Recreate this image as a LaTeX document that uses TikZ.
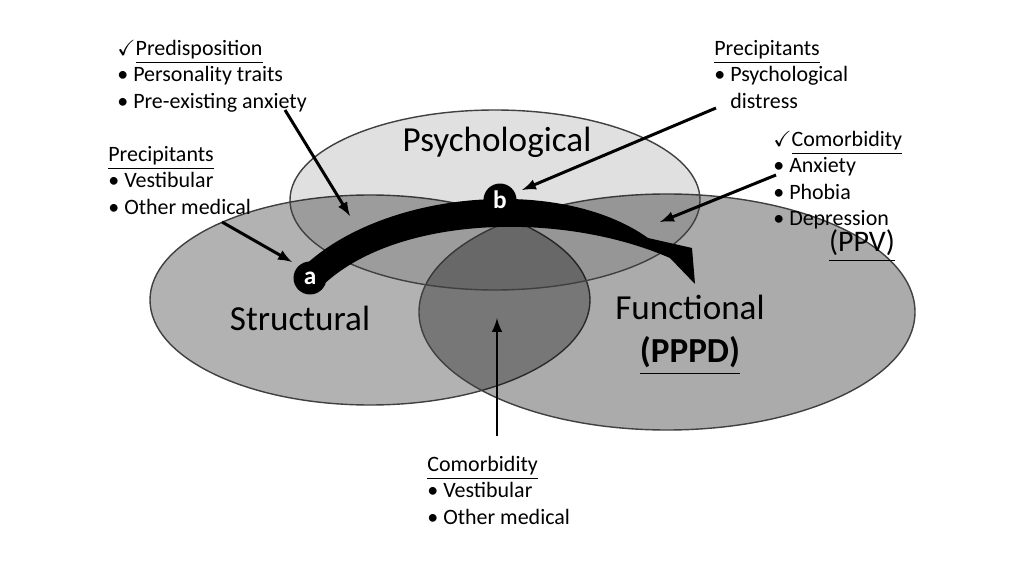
\documentclass[tikz,border=0pt]{standalone}
\usepackage{fontspec}
\setmainfont{Carlito}
\usepackage{amssymb}
\usetikzlibrary{positioning}

\tikzset{
  zone/.style = {draw = black!75, line width = 0.8pt, fill = black, fill opacity = 0.3, text opacity = 1},
  note/.style = {align = left, font = \fontsize{12.5}{15}\selectfont, anchor = north west, inner sep = 0pt},
  stage/.style = {circle, fill = black, text = white, font = \bfseries\Large, inner sep = 1.5pt, minimum size = 0.66cm},
  pointer/.style = {-latex, line width = 1.7pt},
}

\begin{document}
\begin{tikzpicture}[x = 0.02cm, y = -0.02cm]
	\useasboundingbox (0, 0) rectangle (1028, 564);
	
		% the three zones
		\fill[white] (0, 0) rectangle (1028, 564);
		\draw[zone, fill opacity = 0.3] (370, 300) ellipse [x radius = 220, y radius = 105];
		\draw[zone, fill opacity = 0.33] (667, 312) ellipse [x radius = 248, y radius = 118];
		\draw[zone, fill opacity = 0.12] (495, 200) ellipse [x radius = 205, y radius = 90];
		
		\node[font = \fontsize{20}{22}\selectfont] (psy) at (497, 142) {Psychological};
		\node[font = \fontsize{20}{22}\selectfont] (str) at (300, 318) {Structural};
		\node[font = \fontsize{20}{24}\selectfont, align = center] (fun) at (690, 335) {Functional\\[1pt] \textbf{\underline{(PPPD)}}};
		
		% course from a to b
		\fill (300, 270) .. controls (380, 190) and (560, 175) .. (648, 238)
			-- (692, 248) -- (695, 284) -- (670, 258)
			.. controls (560, 210) and (390, 215) .. (318, 290) -- cycle;
		\node[stage] (a) at (310, 278) {a};
		\node[stage] (b) at (500, 200) {b};
		
		% texts round the zones
		\node[note] (pre) at (117, 40) {\checkmark\underline{Predisposition}\\ \textbullet{} Personality traits\\ \textbullet{} Pre-existing anxiety};
		\node[note] (prl) at (108, 146) {\underline{Precipitants}\\ \textbullet{} Vestibular\\ \textbullet{} Other medical};
		\node[note] (prr) at (714, 40) {\underline{Precipitants}\\ \textbullet{} Psychological\\ \phantom{\textbullet{}} distress};
		\node[note] (cor) at (773, 131) {\checkmark\underline{Comorbidity}\\ \textbullet{} Anxiety\\ \textbullet{} Phobia\\ \textbullet{} Depression};
		\node[font = \fontsize{17}{20}\selectfont] (ppv) at (862, 246) {\underline{(PPV)}};
		\node[note] (cob) at (427, 456) {\underline{Comorbidity}\\ \textbullet{} Vestibular\\ \textbullet{} Other medical};
		
		\coordinate (t1) at (350, 216);
		\coordinate (t2) at (292, 262);
		\coordinate (t3) at (522, 190);
		\coordinate (t4) at (660, 222);
		\coordinate (t5) at (497, 318);
		\coordinate (s1) at (285, 110);
		\coordinate (s2) at (222, 222);
		\coordinate (s3) at (716, 108);
		\coordinate (s4) at (776, 175);
		\coordinate (s5) at (497, 436);
		
		\draw[pointer] (s1) -- (t1);
		\draw[pointer] (s2) -- (t2);
		\draw[pointer] (s3) -- (t3);
		\draw[pointer] (s4) -- (t4);
		\draw[pointer] (s5) -- (t5);
	\end{tikzpicture}
\end{document}
